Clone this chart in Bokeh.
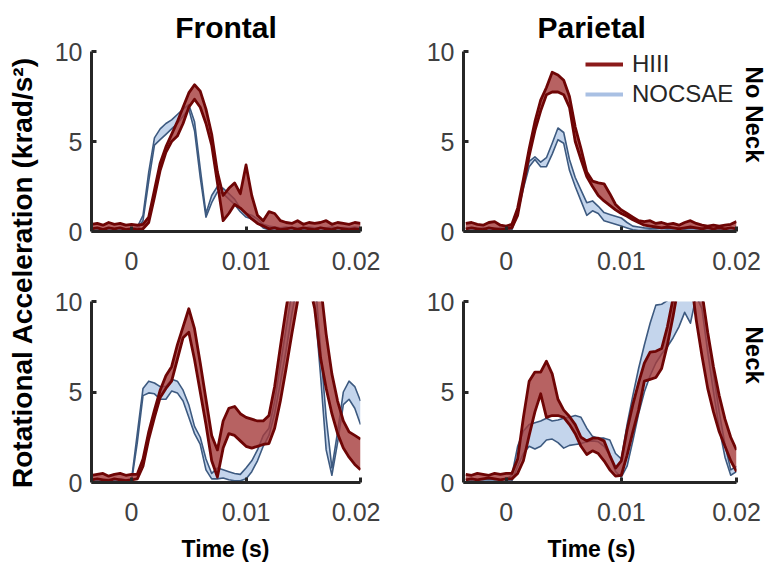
import numpy as np
from bokeh.plotting import figure
from bokeh.layouts import column, row
from bokeh.models import (FixedTicker, CustomJSTickFormatter, Label, Legend,
                          LegendItem, Range1d, Title)
from bokeh.embed import file_html
from bokeh.resources import INLINE

# ---------------------------------------------------------------- data
# Sample times (ms); every band below is given on this grid.
TIME_MS = [-3.5, -3.0, -2.5, -2.0, -1.5, -1.0, -0.5, 0.0, 0.5, 1.0,
           1.5, 2.0, 2.5, 3.0, 3.5, 4.0, 4.5, 5.0, 5.5, 6.0,
           6.5, 7.0, 7.5, 8.0, 8.5, 9.0, 9.5, 10.0, 10.5, 11.0,
           11.5, 12.0, 12.5, 13.0, 13.5, 14.0, 14.5, 15.0, 15.5, 16.0,
           16.5, 17.0, 17.5, 18.0, 18.5, 19.0, 19.5, 20.0]

# Rotational acceleration (krad/s^2): lower / upper edge of each band.
FRONTAL_NONECK_HIII_LO = [0.15, 0.2, 0.1, 0.2, 0.15, 0.2, 0.1, 0.15, 0.1, 0.15,
                          0.5, 1.9, 3.4, 4.4, 5.0, 5.3, 6.0, 6.9, 7.35, 6.9,
                          6.0, 4.8, 2.7, 0.6, 1.0, 1.5, 1.3, 1.0, 0.7, 0.45,
                          0.3, 0.15, 0.2, 0.1, 0.15, 0.2, 0.1, 0.2, 0.15, 0.1,
                          0.2, 0.15, 0.1, 0.2, 0.15, 0.1, 0.15, 0.1]
FRONTAL_NONECK_HIII_HI = [0.4, 0.45, 0.35, 0.5, 0.4, 0.45, 0.35, 0.4, 0.35, 0.4,
                          0.8, 2.3, 3.8, 4.7, 5.4, 6.1, 6.9, 7.7, 8.15, 7.8,
                          6.8, 5.4, 3.3, 2.0, 2.4, 2.7, 2.1, 3.7, 2.0, 0.9,
                          0.6, 1.1, 1.0, 0.6, 0.5, 0.45, 0.6, 0.4, 0.5, 0.45,
                          0.5, 0.6, 0.4, 0.5, 0.45, 0.4, 0.5, 0.45]
FRONTAL_NONECK_NOC_LO = [0.05, 0.08, 0.05, 0.06, 0.05, 0.08, 0.05, 0.06, 0.1, 0.6,
                         2.8, 4.8, 5.1, 5.4, 5.7, 6.0, 6.4, 6.8, 5.6, 3.0,
                         0.8, 1.6, 2.2, 2.1, 1.8, 1.5, 1.1, 0.8, 0.7, 0.5,
                         0.2, 0.1, 0.05, 0.08, 0.05, 0.06, 0.05, 0.08, 0.05, 0.06,
                         0.05, 0.08, 0.05, 0.06, 0.05, 0.08, 0.05, 0.06]
FRONTAL_NONECK_NOC_HI = [0.15, 0.2, 0.15, 0.18, 0.15, 0.2, 0.15, 0.18, 0.25, 0.9,
                         3.3, 5.2, 5.7, 6.0, 6.2, 6.5, 6.8, 7.05, 6.1, 3.5,
                         1.0, 2.0, 2.5, 2.4, 2.1, 1.8, 1.3, 1.0, 0.9, 0.7,
                         0.4, 0.3, 0.25, 0.2, 0.25, 0.2, 0.22, 0.2, 0.25, 0.2,
                         0.22, 0.2, 0.25, 0.2, 0.22, 0.2, 0.25, 0.2]

PARIETAL_NONECK_HIII_LO = [0.15, 0.2, 0.15, 0.1, 0.2, 0.15, 0.1, 0.15, 0.2, 0.9,
                           2.6, 4.2, 5.6, 6.7, 7.6, 7.75, 7.75, 7.6, 6.9, 5.0,
                           4.0, 3.05, 2.5, 2.0, 1.7, 1.45, 1.2, 1.0, 0.85, 0.65,
                           0.5, 0.35, 0.3, 0.25, 0.2, 0.25, 0.2, 0.15, 0.2, 0.25,
                           0.2, 0.15, 0.2, 0.15, 0.2, 0.15, 0.2, 0.15]
PARIETAL_NONECK_HIII_HI = [0.45, 0.5, 0.4, 0.35, 0.5, 0.55, 0.35, 0.3, 0.4, 1.3,
                           2.9, 4.6, 6.1, 7.3, 8.0, 8.85, 8.7, 8.4, 7.5, 5.8,
                           4.6, 3.3, 2.8, 2.7, 2.65, 2.1, 1.5, 1.2, 1.0, 0.8,
                           0.6, 0.55, 0.6, 0.45, 0.5, 0.4, 0.45, 0.35, 0.5, 0.6,
                           0.45, 0.35, 0.3, 0.35, 0.3, 0.35, 0.4, 0.55]
PARIETAL_NONECK_NOC_LO = [0.05, 0.05, 0.08, 0.05, 0.05, 0.08, 0.05, 0.05, 0.1, 1.0,
                          2.4, 3.6, 4.0, 3.6, 3.6, 4.3, 5.1, 4.9, 3.4, 2.5,
                          1.7, 0.9, 1.15, 1.0, 0.6, 0.5, 0.4, 0.3, 0.2, 0.1,
                          0.05, 0.05, 0.08, 0.05, 0.05, 0.08, 0.05, 0.05, 0.08, 0.05,
                          0.05, 0.08, 0.05, 0.05, 0.08, 0.05, 0.05, 0.08]
PARIETAL_NONECK_NOC_HI = [0.15, 0.18, 0.15, 0.2, 0.15, 0.18, 0.2, 0.15, 0.3, 1.3,
                          2.7, 3.9, 4.15, 3.85, 4.1, 4.9, 5.75, 5.5, 4.0, 3.0,
                          2.3, 1.6, 1.7, 1.4, 1.05, 0.95, 0.85, 0.75, 0.5, 0.3,
                          0.25, 0.2, 0.18, 0.15, 0.2, 0.18, 0.15, 0.2, 0.15, 0.18,
                          0.15, 0.2, 0.18, 0.15, 0.2, 0.15, 0.18, 0.15]

FRONTAL_NECK_HIII_LO = [0.15, 0.2, 0.15, 0.1, 0.2, 0.15, 0.1, 0.15, 0.2, 0.9,
                        2.4, 3.6, 4.7, 5.2, 5.6, 6.8, 8.0, 8.3, 6.8, 5.0,
                        3.2, 1.2, 0.3, 1.9, 2.7, 2.6, 2.3, 2.0, 1.9, 2.0,
                        2.1, 2.15, 3.0, 4.5, 6.3, 8.2, 10.0, 11.5, 11.0, 9.6,
                        6.9, 5.2, 3.8, 2.7, 1.9, 1.4, 1.0, 0.7]
FRONTAL_NECK_HIII_HI = [0.4, 0.45, 0.5, 0.35, 0.45, 0.5, 0.4, 0.45, 0.45, 1.3,
                        2.8, 4.0, 5.1, 5.9, 6.4, 7.6, 8.6, 9.6, 8.5, 6.6,
                        4.6, 2.6, 1.8, 3.4, 4.1, 4.2, 3.8, 3.6, 3.5, 3.4,
                        3.4, 3.7, 5.3, 7.5, 9.6, 11.5, 13.0, 13.5, 13.0, 12.0,
                        11.0, 8.2, 6.0, 4.5, 3.4, 2.8, 2.6, 2.4]
FRONTAL_NECK_NOC_LO = [0.05, 0.08, 0.05, 0.06, 0.05, 0.08, 0.05, 0.06, 2.2, 4.8,
                       4.95, 4.9, 4.6, 4.6, 5.05, 4.95, 4.5, 3.6, 2.7, 2.1,
                       0.7, 0.2, 0.2, 0.25, 0.15, 0.1, 0.1, 0.2, 0.6, 1.2,
                       2.0, 2.6, 3.8, 5.5, 7.3, 9.3, 11.0, 12.0, 11.0, 9.8,
                       6.0, 1.8, 0.4, 2.2, 4.3, 4.6, 4.1, 3.2]
FRONTAL_NECK_NOC_HI = [0.15, 0.2, 0.15, 0.18, 0.15, 0.2, 0.15, 0.18, 2.7, 5.2,
                       5.6, 5.5, 5.3, 5.3, 5.7, 5.6, 5.1, 4.3, 3.1, 2.5,
                       1.3, 0.5, 0.8, 0.7, 0.6, 0.5, 0.45, 0.8, 1.2, 1.8,
                       2.6, 3.0, 4.5, 6.5, 8.5, 10.5, 12.5, 13.0, 12.5, 11.5,
                       7.5, 3.6, 0.8, 2.8, 5.0, 5.6, 5.3, 4.5]

PARIETAL_NECK_HIII_LO = [0.15, 0.2, 0.15, 0.2, 0.25, 0.2, 0.15, 0.2, 0.2, 0.5,
                         1.2, 2.6, 3.9, 4.9, 3.6, 3.7, 3.7, 3.6, 3.2, 2.7,
                         2.0, 1.55, 1.75, 1.6, 1.2, 0.7, 0.35, 0.4, 1.5, 2.8,
                         4.0, 5.6, 5.7, 5.8, 6.3, 7.6, 9.2, 11.0, 12.5, 11.5,
                         9.0, 7.0, 5.2, 3.9, 2.8, 2.0, 1.2, 0.6]
PARIETAL_NECK_HIII_HI = [0.45, 0.4, 0.5, 0.45, 0.4, 0.5, 0.45, 0.5, 0.5, 1.3,
                         3.6, 5.6, 6.1, 6.1, 6.7, 6.0, 4.6, 4.0, 3.65, 3.2,
                         2.5, 2.3, 2.45, 2.45, 2.3, 1.5, 0.8, 1.2, 2.9, 4.3,
                         5.5, 6.6, 7.2, 7.25, 7.4, 8.6, 10.2, 12.0, 13.5, 13.5,
                         12.5, 10.5, 8.3, 6.4, 4.8, 3.5, 2.5, 1.8]
PARIETAL_NECK_NOC_LO = [0.05, 0.08, 0.05, 0.06, 0.05, 0.08, 0.05, 0.06, 0.1, 0.9,
                        1.6, 2.0, 1.85, 2.0, 2.35, 2.4, 2.2, 1.9, 2.05, 2.1,
                        2.15, 2.25, 2.3, 2.25, 2.0, 1.5, 0.6, 0.3, 0.9, 2.3,
                        3.8, 5.0, 5.9, 6.6, 7.1, 7.5, 8.0, 8.6, 9.4, 8.8,
                        10.3, 9.6, 7.2, 5.0, 3.0, 1.4, 0.4, 0.6]
PARIETAL_NECK_NOC_HI = [0.15, 0.2, 0.15, 0.18, 0.15, 0.2, 0.15, 0.18, 0.4, 2.0,
                        2.85, 3.2, 3.3, 3.4, 3.55, 3.4, 3.45, 3.55, 3.6, 3.7,
                        3.6, 3.0, 2.55, 2.45, 2.45, 2.35, 1.6, 1.3, 3.2, 4.8,
                        6.3, 7.6, 8.8, 9.8, 9.85, 10.05, 10.3, 10.4, 10.5, 11.0,
                        11.5, 10.5, 8.3, 6.0, 3.9, 2.1, 0.7, 0.9]

X_TICKS = [0, 0.01, 0.02]
Y_TICKS = [0, 5, 10]
COLUMN_TITLES = ["Frontal", "Parietal"]
ROW_TITLES = ["No Neck", "Neck"]
SERIES = ["HIII", "NOCSAE"]
X_LABEL = "Time (s)"
Y_LABEL = "Rotational Acceleration (krad/s\u00b2)"

# ---------------------------------------------------------------- style
FONT = "Liberation Sans"
HIII_EDGE, HIII_FILL, HIII_KEY = "#6e0505", "#a53b3b", "#8b1a1a"
NOC_EDGE, NOC_FILL, NOC_KEY = "#3d5a80", "#bacee9", "#a9c0e3"
AXIS_COLOR = "#262626"
TICK_LABEL_COLOR = "#404040"

t_sec = np.array(TIME_MS) / 1000.0


def make_panel(width, height, border, x_start, bands):
    left, right, top, bottom = border
    p = figure(width=width, height=height, output_backend="svg",
               toolbar_location=None, title=None,
               x_range=Range1d(x_start, 0.02), y_range=Range1d(0, 10),
               min_border_left=left, min_border_right=right,
               min_border_top=top, min_border_bottom=bottom)
    p.outline_line_color = None
    p.xgrid.visible = False
    p.ygrid.visible = False

    for ax in (p.xaxis[0], p.yaxis[0]):
        ax.axis_line_color = AXIS_COLOR
        ax.axis_line_width = 3
        ax.major_tick_line_color = AXIS_COLOR
        ax.major_tick_line_width = 3
        ax.major_tick_in = 5
        ax.major_tick_out = 0
        ax.minor_tick_line_color = None
        ax.major_label_text_font = FONT
        ax.major_label_text_font_size = "25px"
        ax.major_label_text_color = TICK_LABEL_COLOR
    p.xaxis.ticker = FixedTicker(ticks=X_TICKS)
    p.xaxis.formatter = CustomJSTickFormatter(code="return tick.toString();")
    p.xaxis.major_label_standoff = 20
    p.yaxis.ticker = FixedTicker(ticks=Y_TICKS)
    p.yaxis.major_label_standoff = 9

    h_lo, h_hi, n_lo, n_hi = bands
    # NOCSAE band underneath, HIII band on top
    p.varea(x=t_sec, y1=n_lo, y2=n_hi, fill_color=NOC_FILL, fill_alpha=0.85)
    for edge in (n_lo, n_hi):
        p.line(t_sec, edge, line_color=NOC_EDGE, line_width=1.6,
               line_join="round")
    p.varea(x=t_sec, y1=h_lo, y2=h_hi, fill_color=HIII_FILL, fill_alpha=0.8)
    for edge in (h_lo, h_hi):
        p.line(t_sec, edge, line_color=HIII_EDGE, line_width=2.8,
               line_join="round")
    return p


def text_strip(width, height):
    s = figure(width=width, height=height, output_backend="svg",
               toolbar_location=None, title=None, x_axis_location=None,
               y_axis_location=None, min_border=0,
               x_range=Range1d(0, width), y_range=Range1d(0, height))
    s.outline_line_color = None
    s.xgrid.visible = False
    s.ygrid.visible = False
    return s


def strip_text(s, x, y, text, size, angle=0.0):
    s.add_layout(Label(x=x, y=y, text=text, angle=angle, angle_units="deg",
                       text_align="center", text_baseline="middle",
                       text_font=FONT, text_font_style="bold",
                       text_font_size=size, text_color="black"))


def column_title(p, text, align, offset=0):
    p.add_layout(Title(text=text, align=align, offset=offset, standoff=16,
                       text_font=FONT, text_font_style="bold",
                       text_font_size="30px", text_color="black"), "above")


def row_title(p, text, offset):
    p.add_layout(Title(text=text, align="left", offset=offset, standoff=9,
                       text_font=FONT, text_font_style="bold",
                       text_font_size="24px", text_color="black"), "right")


tl = make_panel(340, 281, (51, 20, 51, 50), -0.0035,
                (FRONTAL_NONECK_HIII_LO, FRONTAL_NONECK_HIII_HI,
                 FRONTAL_NONECK_NOC_LO, FRONTAL_NONECK_NOC_HI))
tr = make_panel(394, 281, (83, 38, 51, 50), -0.0037,
                (PARIETAL_NONECK_HIII_LO, PARIETAL_NONECK_HIII_HI,
                 PARIETAL_NONECK_NOC_LO, PARIETAL_NONECK_NOC_HI))
bl = make_panel(340, 249, (51, 20, 20, 48), -0.0035,
                (FRONTAL_NECK_HIII_LO, FRONTAL_NECK_HIII_HI,
                 FRONTAL_NECK_NOC_LO, FRONTAL_NECK_NOC_HI))
br = make_panel(394, 249, (83, 38, 20, 48), -0.0037,
                (PARIETAL_NECK_HIII_LO, PARIETAL_NECK_HIII_HI,
                 PARIETAL_NECK_NOC_LO, PARIETAL_NECK_NOC_HI))

column_title(tl, COLUMN_TITLES[0], "center")
column_title(tr, COLUMN_TITLES[1], "left", offset=74)
row_title(tr, ROW_TITLES[0], 15)
row_title(br, ROW_TITLES[1], 25)

# legend in the Parietal / No Neck panel
key_hiii = tr.line([np.nan], [np.nan], line_color=HIII_KEY, line_width=4)
key_noc = tr.line([np.nan], [np.nan], line_color=NOC_KEY, line_width=4)
legend = Legend(items=[LegendItem(label=SERIES[0], renderers=[key_hiii]),
                       LegendItem(label=SERIES[1], renderers=[key_noc])],
                location=(122, 122), orientation="vertical",
                glyph_width=38, glyph_height=30, label_height=30,
                label_standoff=9, spacing=0, padding=0, margin=0,
                label_text_font=FONT, label_text_font_size="24px",
                label_text_color="#262626",
                border_line_color=None, background_fill_alpha=0)
tr.add_layout(legend)

# strips for the x labels and the shared y label
bottom = text_strip(734, 35)
strip_text(bottom, 185, 17, X_LABEL, "23px")
strip_text(bottom, 551, 17, X_LABEL, "23px")

left = text_strip(40, 565)
strip_text(left, 22, 293, Y_LABEL, "28px", angle=90)

layout = row(left, column(row(tl, tr), row(bl, br), bottom))
open("out.html", "w").write(file_html(layout, INLINE))
